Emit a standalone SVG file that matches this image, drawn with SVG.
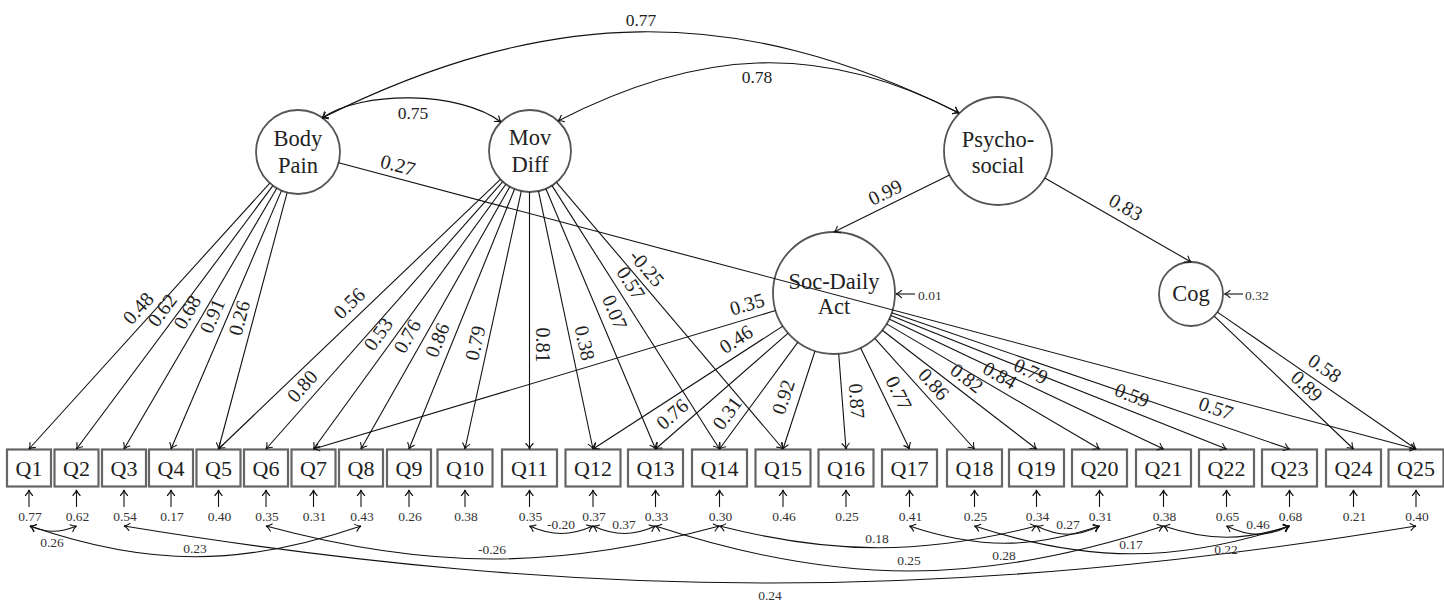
<svg xmlns="http://www.w3.org/2000/svg" width="1444" height="601" viewBox="0 0 1444 601">
<defs>
<marker id="ah" viewBox="-7 -5 8 10" refX="0" refY="0" markerWidth="8" markerHeight="10" orient="auto-start-reverse" markerUnits="userSpaceOnUse">
<path d="M-5.5,-3.6 C-3.2,-1.3 -1.2,-0.3 0,0 C-1.2,0.3 -3.2,1.3 -5.5,3.6" fill="none" stroke="#111" stroke-width="1.1" stroke-linecap="round"/>
</marker>
<style>
.ln{stroke:#111;stroke-width:1.1;fill:none}
.a{marker-end:url(#ah)}
.b{marker-start:url(#ah);marker-end:url(#ah)}
.lat{fill:none;stroke:#555;stroke-width:1.8}
.obs{fill:#fff;stroke:#666;stroke-width:2.2}
.t{font-family:"Liberation Serif",serif;fill:#222}
.nm{font-size:22.5px;text-anchor:middle}
.q{font-size:22px;text-anchor:middle}
.ld{font-size:20px;text-anchor:middle;dominant-baseline:central}
.cv{font-size:17.5px;text-anchor:middle;dominant-baseline:central}
.sm{font-size:13.5px;text-anchor:middle;dominant-baseline:central;fill:#333}
.sl{font-size:13.5px;text-anchor:start;dominant-baseline:central;fill:#333}
</style>
</defs>
<rect width="1444" height="601" fill="#fff"/>

<!-- latent nodes -->
<g id="BodyPain"><circle class="lat" cx="298" cy="152" r="42"/><text class="t nm" x="298" y="146">Body</text><text class="t nm" x="298" y="173">Pain</text></g>
<g id="MovDiff"><circle class="lat" cx="530" cy="151" r="41"/><text class="t nm" x="530" y="145">Mov</text><text class="t nm" x="530" y="172">Diff</text></g>
<g id="Psychosocial"><circle class="lat" cx="998" cy="151" r="54"/><text class="t nm" x="998" y="147">Psycho-</text><text class="t nm" x="998" y="173">social</text></g>
<g id="SocDailyAct"><circle class="lat" cx="834" cy="293" r="61"/><text class="t nm" x="834" y="289">Soc-Daily</text><text class="t nm" x="834" y="314">Act</text></g>
<g id="Cog"><circle class="lat" cx="1191" cy="294" r="32"/><text class="t nm" x="1191" y="301">Cog</text></g>

<!-- observed nodes -->
<g id="Q1"><rect class="obs" x="7" y="449.5" width="44" height="37"/><text class="t q" x="29" y="476">Q1</text></g>
<g id="Q2"><rect class="obs" x="54.5" y="449.5" width="44" height="37"/><text class="t q" x="76.5" y="476">Q2</text></g>
<g id="Q3"><rect class="obs" x="102" y="449.5" width="44" height="37"/><text class="t q" x="124" y="476">Q3</text></g>
<g id="Q4"><rect class="obs" x="149" y="449.5" width="44" height="37"/><text class="t q" x="171" y="476">Q4</text></g>
<g id="Q5"><rect class="obs" x="196.5" y="449.5" width="44" height="37"/><text class="t q" x="218.5" y="476">Q5</text></g>
<g id="Q6"><rect class="obs" x="244" y="449.5" width="44" height="37"/><text class="t q" x="266" y="476">Q6</text></g>
<g id="Q7"><rect class="obs" x="291.5" y="449.5" width="44" height="37"/><text class="t q" x="313.5" y="476">Q7</text></g>
<g id="Q8"><rect class="obs" x="339" y="449.5" width="44" height="37"/><text class="t q" x="361" y="476">Q8</text></g>
<g id="Q9"><rect class="obs" x="387" y="449.5" width="44" height="37"/><text class="t q" x="409" y="476">Q9</text></g>
<g id="Q10"><rect class="obs" x="437.5" y="449.5" width="55" height="37"/><text class="t q" x="465" y="476">Q10</text></g>
<g id="Q11"><rect class="obs" x="502" y="449.5" width="55" height="37"/><text class="t q" x="529.5" y="476">Q11</text></g>
<g id="Q12"><rect class="obs" x="565.5" y="449.5" width="55" height="37"/><text class="t q" x="593" y="476">Q12</text></g>
<g id="Q13"><rect class="obs" x="628" y="449.5" width="55" height="37"/><text class="t q" x="655.5" y="476">Q13</text></g>
<g id="Q14"><rect class="obs" x="692" y="449.5" width="55" height="37"/><text class="t q" x="719.5" y="476">Q14</text></g>
<g id="Q15"><rect class="obs" x="755.5" y="449.5" width="55" height="37"/><text class="t q" x="783" y="476">Q15</text></g>
<g id="Q16"><rect class="obs" x="818.5" y="449.5" width="55" height="37"/><text class="t q" x="846" y="476">Q16</text></g>
<g id="Q17"><rect class="obs" x="882" y="449.5" width="55" height="37"/><text class="t q" x="909.5" y="476">Q17</text></g>
<g id="Q18"><rect class="obs" x="947" y="449.5" width="55" height="37"/><text class="t q" x="974.5" y="476">Q18</text></g>
<g id="Q19"><rect class="obs" x="1009" y="449.5" width="55" height="37"/><text class="t q" x="1036.5" y="476">Q19</text></g>
<g id="Q20"><rect class="obs" x="1072" y="449.5" width="55" height="37"/><text class="t q" x="1099.5" y="476">Q20</text></g>
<g id="Q21"><rect class="obs" x="1136" y="449.5" width="55" height="37"/><text class="t q" x="1163.5" y="476">Q21</text></g>
<g id="Q22"><rect class="obs" x="1199" y="449.5" width="55" height="37"/><text class="t q" x="1226.5" y="476">Q22</text></g>
<g id="Q23"><rect class="obs" x="1262" y="449.5" width="55" height="37"/><text class="t q" x="1289.5" y="476">Q23</text></g>
<g id="Q24"><rect class="obs" x="1326" y="449.5" width="55" height="37"/><text class="t q" x="1353.5" y="476">Q24</text></g>
<g id="Q25"><rect class="obs" x="1388.5" y="449.5" width="55" height="37"/><text class="t q" x="1416" y="476">Q25</text></g>

<!-- error variances -->
<g id="errors">
<text class="t sm" x="30" y="516">0.77</text><text class="t sm" x="77.5" y="516">0.62</text><text class="t sm" x="125" y="516">0.54</text><text class="t sm" x="172" y="516">0.17</text><text class="t sm" x="219.5" y="516">0.40</text>
<text class="t sm" x="267" y="516">0.35</text><text class="t sm" x="314.5" y="516">0.31</text><text class="t sm" x="362" y="516">0.43</text><text class="t sm" x="410" y="516">0.26</text><text class="t sm" x="466" y="516">0.38</text>
<text class="t sm" x="530.5" y="516">0.35</text><text class="t sm" x="594" y="516">0.37</text><text class="t sm" x="656.5" y="516">0.33</text><text class="t sm" x="720.5" y="516">0.30</text><text class="t sm" x="784" y="516">0.46</text>
<text class="t sm" x="847" y="516">0.25</text><text class="t sm" x="910.5" y="516">0.41</text><text class="t sm" x="975.5" y="516">0.25</text><text class="t sm" x="1037.5" y="516">0.34</text><text class="t sm" x="1100.5" y="516">0.31</text>
<text class="t sm" x="1164.5" y="516">0.38</text><text class="t sm" x="1227.5" y="516">0.65</text><text class="t sm" x="1290.5" y="516">0.68</text><text class="t sm" x="1354.5" y="516">0.21</text><text class="t sm" x="1417" y="516">0.40</text>
<text class="t sl" x="918" y="295">0.01</text>
<text class="t sl" x="1245" y="295">0.32</text>
</g>

<g id="connectors">
<!-- latent covariances -->
<path class="ln b" d="M322,118 C362,90 460,91 501,122"/>
<path class="ln b" d="M322,118 C545,7 735,1 959,113"/>
<path class="ln b" d="M558,121 C696,50 818,40 959,113"/>
<text class="t cv" x="413" y="113">0.75</text>
<text class="t cv" x="641" y="20">0.77</text>
<text class="t cv" x="757" y="77">0.78</text>

<!-- structural -->
<path class="ln a" d="M949.6,174.9 L834,232"/>
<path class="ln a" d="M1044.8,177.9 L1191,262"/>
<text class="t ld" transform="translate(885,192) rotate(-26.3)">0.99</text>
<text class="t ld" transform="translate(1126,207) rotate(29.9)">0.83</text>

<!-- disturbances -->
<path class="ln a" d="M915,294 L896,294"/>
<path class="ln a" d="M1243,294 L1224.5,294"/>

<!-- Body Pain loadings -->
<path class="ln a" d="M269.8,183.1 L29,449"/>
<path class="ln a" d="M272.9,185.7 L76.5,449"/>
<path class="ln a" d="M276.8,188.2 L124,449"/>
<path class="ln a" d="M281.5,190.6 L171,449"/>
<path class="ln a" d="M287.1,192.6 L218.5,449"/>
<path class="ln a" d="M338.6,162.8 L1416,449"/>
<text class="t ld" transform="translate(138,308) rotate(-47.8)">0.48</text>
<text class="t ld" transform="translate(162,310) rotate(-53.3)">0.62</text>
<text class="t ld" transform="translate(187,312) rotate(-59.6)">0.68</text>
<text class="t ld" transform="translate(212,316) rotate(-66.9)">0.91</text>
<text class="t ld" transform="translate(239,318) rotate(-75)">0.26</text>
<text class="t ld" transform="translate(398,165) rotate(14.9)">0.27</text>

<!-- Mov Diff loadings -->
<path class="ln a" d="M500.4,179.3 L218.5,449"/>
<path class="ln a" d="M502.8,181.7 L266,449"/>
<path class="ln a" d="M505.9,184.2 L313.5,449"/>
<path class="ln a" d="M509.8,186.7 L361,449"/>
<path class="ln a" d="M514.6,189 L409,449"/>
<path class="ln a" d="M521.3,191.1 L465,449"/>
<path class="ln a" d="M529.5,192 L529.5,449"/>
<path class="ln a" d="M538.5,191.1 L593,449"/>
<path class="ln a" d="M545.9,188.8 L655.5,449"/>
<path class="ln a" d="M552,185.6 L719.5,449"/>
<path class="ln a" d="M556.5,182.3 L783,449"/>
<text class="t ld" transform="translate(349,303) rotate(-43.7)">0.56</text>
<text class="t ld" transform="translate(302,386) rotate(-48.5)">0.80</text>
<text class="t ld" transform="translate(378,334) rotate(-54)">0.53</text>
<text class="t ld" transform="translate(407,336) rotate(-60.4)">0.76</text>
<text class="t ld" transform="translate(437,340) rotate(-67.9)">0.86</text>
<text class="t ld" transform="translate(475,343) rotate(-77.7)">0.79</text>
<text class="t ld" transform="translate(543,345) rotate(90)">0.81</text>
<text class="t ld" transform="translate(585,343) rotate(78.1)">0.38</text>
<text class="t ld" transform="translate(615,312) rotate(67.2)">0.07</text>
<text class="t ld" transform="translate(631,283) rotate(57.5)">0.57</text>
<text class="t ld" transform="translate(647,268) rotate(49.7)">-0.25</text>

<!-- Soc-Daily Act loadings -->
<path class="ln a" d="M775.6,310.5 L313.5,449"/>
<path class="ln a" d="M782.8,326.1 L593,449"/>
<path class="ln a" d="M788.1,333.1 L655.5,449"/>
<path class="ln a" d="M797.9,342.2 L719.5,449"/>
<path class="ln a" d="M815,351 L783,449"/>
<path class="ln a" d="M838.7,353.8 L846,449"/>
<path class="ln a" d="M860.6,347.9 L909.5,449"/>
<path class="ln a" d="M874.8,338.3 L974.5,449"/>
<path class="ln a" d="M882.3,330.2 L1036.5,449"/>
<path class="ln a" d="M886.6,323.9 L1099.5,449"/>
<path class="ln a" d="M889.1,319.1 L1163.5,449"/>
<path class="ln a" d="M890.7,315.5 L1226.5,449"/>
<path class="ln a" d="M891.7,312.8 L1289.5,449"/>
<text class="t ld" transform="translate(747,304) rotate(-16.7)">0.35</text>
<text class="t ld" transform="translate(736,339) rotate(-32.9)">0.46</text>
<text class="t ld" transform="translate(672,414) rotate(-41.1)">0.76</text>
<text class="t ld" transform="translate(727,413) rotate(-53.7)">0.31</text>
<text class="t ld" transform="translate(783,397) rotate(-71.9)">0.92</text>
<text class="t ld" transform="translate(857,401) rotate(85.6)">0.87</text>
<text class="t ld" transform="translate(899,393) rotate(64.2)">0.77</text>
<text class="t ld" transform="translate(934,384) rotate(48)">0.86</text>
<text class="t ld" transform="translate(967,378) rotate(37.6)">0.82</text>
<text class="t ld" transform="translate(1000,375) rotate(30.4)">0.84</text>
<text class="t ld" transform="translate(1031,371) rotate(25.3)">0.79</text>
<text class="t ld" transform="translate(1132,395) rotate(21.7)">0.59</text>
<text class="t ld" transform="translate(1216,408) rotate(18.9)">0.57</text>

<!-- Cog loadings -->
<path class="ln a" d="M1214.2,316.1 L1353.5,449"/>
<path class="ln a" d="M1217.4,312.1 L1416,449"/>
<text class="t ld" transform="translate(1307,386) rotate(43.6)">0.89</text>
<text class="t ld" transform="translate(1325,368) rotate(34.5)">0.58</text>

<!-- error arrows -->
<g class="ln a">
<path d="M29,507V490"/><path d="M76.5,507V490"/><path d="M124,507V490"/><path d="M171,507V490"/><path d="M218.5,507V490"/><path d="M266,507V490"/><path d="M313.5,507V490"/><path d="M361,507V490"/><path d="M409,507V490"/><path d="M465,507V490"/><path d="M529.5,507V490"/><path d="M593,507V490"/><path d="M655.5,507V490"/><path d="M719.5,507V490"/><path d="M783,507V490"/><path d="M846,507V490"/><path d="M909.5,507V490"/><path d="M974.5,507V490"/><path d="M1036.5,507V490"/><path d="M1099.5,507V490"/><path d="M1163.5,507V490"/><path d="M1226.5,507V490"/><path d="M1289.5,507V490"/><path d="M1353.5,507V490"/><path d="M1416,507V490"/>
</g>

<!-- error covariances -->
<path class="ln b" d="M30,526 C47,533 59.4,533 76.5,526"/>
<path class="ln b" d="M30,526 C148.5,567 241.5,567 361,526"/>
<path class="ln b" d="M124,526 C589,602 951,602 1416,526"/>
<path class="ln b" d="M266,526 C429.3,570 556.2,570 719.5,526"/>
<path class="ln b" d="M529.5,526 C552.4,536 570.1,536 593,526"/>
<path class="ln b" d="M593,526 C615.5,536 633,536 655.5,526"/>
<path class="ln b" d="M655.5,526 C838.4,586 980.6,586 1163.5,526"/>
<path class="ln b" d="M719.5,526 C833.6,555 922.4,555 1036.5,526"/>
<path class="ln b" d="M909.5,526 C977.9,549 1031.1,549 1099.5,526"/>
<path class="ln b" d="M974.5,526 C1087.9,563 1176.1,563 1289.5,526"/>
<path class="ln b" d="M1036.5,526 C1059.2,537 1076.8,537 1099.5,526"/>
<path class="ln b" d="M1163.5,526 C1208.9,541 1244.1,541 1289.5,526"/>
<path class="ln b" d="M1226.5,526 C1249.2,537 1266.8,537 1289.5,526"/>
<text class="t sm" x="52" y="542">0.26</text>
<text class="t sm" x="195" y="548">0.23</text>
<text class="t sm" x="770" y="595">0.24</text>
<text class="t sm" x="492" y="549">-0.26</text>
<text class="t sm" x="561" y="524">-0.20</text>
<text class="t sm" x="624" y="524">0.37</text>
<text class="t sm" x="909" y="560">0.25</text>
<text class="t sm" x="877" y="538">0.18</text>
<text class="t sm" x="1004" y="555">0.28</text>
<text class="t sm" x="1131" y="544">0.17</text>
<text class="t sm" x="1068" y="524">0.27</text>
<text class="t sm" x="1226" y="549">0.22</text>
<text class="t sm" x="1258" y="524">0.46</text>
</g>
</svg>
